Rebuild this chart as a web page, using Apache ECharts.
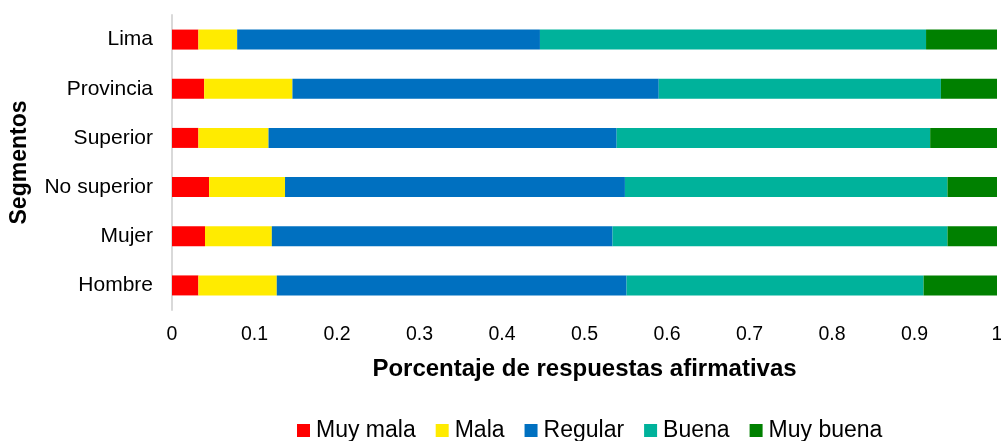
<!DOCTYPE html>
<html><head><meta charset="utf-8">
<script src="https://cdn.jsdelivr.net/npm/echarts@6/dist/echarts.min.js"></script>
<style>html,body{margin:0;padding:0;background:#fff;overflow:hidden}#c{width:1001px;height:441px}</style>
</head><body><div id="c"></div>
<script>
const categories = ['Hombre','Mujer','No superior','Superior','Provincia','Lima'];
const muyMala   = [0.032, 0.040, 0.045, 0.032, 0.039, 0.032];
const mala      = [0.095, 0.081, 0.092, 0.085, 0.107, 0.047];
const regular   = [0.424, 0.413, 0.412, 0.422, 0.444, 0.367];
const buena     = [0.360, 0.406, 0.391, 0.380, 0.342, 0.468];
const muyBuena  = [0.089, 0.060, 0.060, 0.082, 0.068, 0.086];
const seriesNames = ['Muy mala','Mala','Regular','Buena','Muy buena'];
const seriesData = [muyMala, mala, regular, buena, muyBuena];
const colors = ['#FF0000','#FFEB00','#0070C0','#00B29B','#008000'];

const chart = echarts.init(document.getElementById('c'));
chart.setOption({
  animation:false,
  textStyle:{fontFamily:'Liberation Sans, Arial, sans-serif'},
  grid:{left:172,right:4,top:15,bottom:131,containLabel:false,outerBoundsMode:'none'},
  legend:{
    top:414,left:292,itemWidth:13,itemHeight:13,itemGap:20,icon:'rect',
    textStyle:{fontSize:23,color:'#000',padding:[0,0,0,1]},
    data:seriesNames
  },
  xAxis:{
    type:'value',min:0,max:1,interval:0.1,
    name:'Porcentaje de respuestas afirmativas',nameLocation:'middle',nameGap:47,
    nameTextStyle:{fontSize:24,fontWeight:'bold',color:'#000'},
    axisLine:{show:false},axisTick:{show:false},splitLine:{show:false},
    axisLabel:{fontSize:19.5,color:'#000',margin:15,formatter:v=>String(+v.toFixed(1))}
  },
  yAxis:{
    type:'category',data:categories,
    name:'Segmentos',nameLocation:'middle',nameGap:141,nameRotate:90,
    nameTextStyle:{fontSize:23,fontWeight:'bold',color:'#000'},
    axisLine:{show:true,lineStyle:{color:'#d9d9d9',width:2}},axisTick:{show:false},
    axisLabel:{fontSize:21,color:'#000',margin:19}
  },
  series: seriesNames.map((n,i)=>({
    name:n,type:'bar',stack:'s',barWidth:20,data:seriesData[i],
    itemStyle:{color:colors[i]}
  }))
});
</script></body></html>
